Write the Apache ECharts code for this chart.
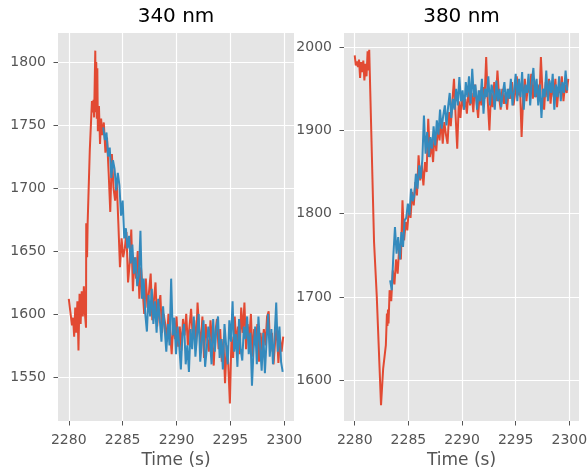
<!DOCTYPE html>
<html>
<head>
<meta charset="utf-8">
<script src="https://cdn.jsdelivr.net/npm/echarts@6/dist/echarts.min.js"></script>
<style>
html,body{margin:0;padding:0;background:#fff;}
#c{width:587px;height:472px;}
</style>
</head>
<body>
<div id="c"></div>
<script>
// ---------- DATA ----------
var titles = ['340 nm', '380 nm'];
var xTicks = [2280, 2285, 2290, 2295, 2300];
var yTicks340 = [1550, 1600, 1650, 1700, 1750, 1800];
var yTicks380 = [1600, 1700, 1800, 1900, 2000];
var sampleStep = 0.15;

// 340 nm, red: irregular onset (time, value) then regular tail from 2283.1
var red340OnsetT = [2280.0,2280.3,2280.4,2280.5,2280.6,2280.7,2280.8,2280.9,2281.0,2281.1,2281.2,2281.3,2281.4,2281.5,2281.6,
  2281.62,2281.7,2281.75,2281.95,2282.15,2282.2,2282.3,2282.35,2282.42,2282.46,2282.5,2282.55,2282.6,2282.65,2282.7,2282.8,2282.9,2283.0];
var red340OnsetV = [1612,1591,1597,1582,1605,1585,1610,1571,1616,1592,1618,1598,1622,1600,1589,
  1672,1645,1672,1730,1769,1760,1770,1756,1790,1809,1760,1800,1755,1795,1745,1765,1735,1755];
var red340TailStart = 2283.1;
var red340Tail = [
  1742,1752,1728,1740,1712,1681,1727,1700,1690,1705,
  1672,1637,1660,1645,1652,1665,1625,1640,1667,1618,
  1645,1628,1650,1612,1637,1620,1600,1628,1605,1618,
  1632,1595,1611,1625,1590,1606,1615,1585,1600,1592,
  1578,1600,1586,1568,1595,1580,1598,1574,1590,1571,
  1596,1583,1600,1575,1590,1604,1582,1595,1572,1609,
  1588,1575,1598,1565,1592,1580,1570,1595,1578,1559,
  1585,1596,1572,1588,1562,1580,1545,1575,1560,1529,
  1582,1565,1598,1575,1590,1568,1605,1585,1609,1572,
  1592,1580,1600,1566,1588,1575,1592,1562,1585,1570,
  1588,1575,1598,1602,1570,1585,1560,1578,1590,1561,
  1580,1570,1582];
// 340 nm, blue: regular from 2283.2
var blue340Start = 2283.2;
var blue340 = [
  1748,1738,1744,1725,1732,1708,1722,1715,1698,1712,
  1702,1678,1690,1660,1668,1652,1662,1640,1655,1632,
  1645,1622,1630,1666,1612,1628,1600,1586,1615,1598,
  1620,1592,1610,1585,1612,1595,1578,1606,1588,1570,
  1592,1575,1628,1583,1597,1568,1590,1575,1556,1584,
  1592,1560,1575,1554,1588,1572,1598,1566,1583,1600,
  1562,1578,1595,1558,1572,1590,1580,1560,1596,1570,
  1588,1598,1565,1580,1556,1592,1575,1560,1595,1578,
  1610,1570,1584,1558,1596,1572,1563,1590,1580,1598,
  1568,1585,1543,1572,1590,1560,1598,1575,1555,1585,
  1553,1578,1600,1566,1588,1560,1582,1609,1570,1590,
  1562,1554];

// 380 nm, red
var red380OnsetT = [2280.0,2280.1,2280.2,2280.3,2280.4,2280.5,2280.6,2280.7,2280.8,2280.9,2281.0,2281.1,2281.2,2281.3,2281.35,2281.4,
  2281.8,2281.85,2282.05,2282.1,2282.45,2282.65,2282.9,2283.0,2283.05,2283.1,2283.15,2283.25,2283.3];
var red380OnsetV = [1990,1978,1983,1976,1985,1963,1982,1970,1984,1960,1980,1965,1995,1972,1997,1996,
  1766,1764,1702,1700,1570,1614,1642,1680,1665,1685,1668,1708,1705];
var red380TailStart = 2283.4;
var red380Tail = [
  1695,1732,1715,1745,1728,1760,1745,1816,1768,1790,
  1780,1808,1795,1826,1810,1838,1822,1870,1840,1858,
  1834,1862,1850,1914,1868,1885,1862,1898,1875,1905,
  1888,1914,1884,1910,1895,1884,1922,1905,1935,1962,
  1918,1878,1935,1915,1945,1925,1938,1920,1948,1930,
  1945,1922,1955,1935,1915,1948,1930,1952,1938,1988,
  1935,1900,1945,1928,1958,1935,1972,1940,1925,1950,
  1932,1945,1925,1950,1938,1958,1930,1945,1965,1942,
  1955,1892,1940,1962,1935,1955,1945,1968,1938,1960,
  1940,1955,1935,1988,1945,1925,1958,1940,1962,1932,
  1955,1940,1962,1928,1950,1945,1965,1935,1955,1945,
  1962];
// 380 nm, blue: regular from 2283.3
var blue380Start = 2283.3;
var blue380 = [
  1720,1708,1750,1784,1752,1772,1745,1778,1760,1792,
  1795,1812,1798,1830,1815,1822,1848,1830,1858,1842,
  1865,1918,1872,1898,1868,1892,1878,1905,1882,1912,
  1895,1925,1902,1918,1930,1906,1928,1945,1915,1938,
  1925,1950,1930,1964,1935,1948,1925,1958,1940,1965,
  1932,1974,1940,1955,1925,1948,1935,1962,1920,1950,
  1940,1965,1930,1955,1945,1925,1960,1935,1950,1928,
  1945,1958,1932,1950,1938,1962,1930,1948,1968,1935,
  1962,1940,1970,1925,1955,1945,1968,1930,1958,1975,
  1940,1962,1930,1955,1915,1950,1940,1972,1935,1960,
  1945,1968,1925,1955,1940,1965,1935,1958,1945,1972,
  1948];

// ---------- BUILD ----------
function pairs(ts, vs) { return ts.map(function (t, i) { return [t, vs[i]]; }); }
function regular(start, vs) {
  return vs.map(function (v, i) { return [Math.round((start + i * sampleStep) * 100) / 100, v]; });
}
var red340Data = pairs(red340OnsetT, red340OnsetV).concat(regular(red340TailStart, red340Tail));
var blue340Data = regular(blue340Start, blue340);
var red380Data = pairs(red380OnsetT, red380OnsetV).concat(regular(red380TailStart, red380Tail));
var blue380Data = regular(blue380Start, blue380);

var RED = '#E24A33', BLUE = '#348ABD', FONT = 'DejaVu Sans';
function plain(v) { return String(v); }

function xAxis(idx) {
  return {
    type: 'value', gridIndex: idx, min: 2279.0, max: 2300.9,
    name: 'Time (s)', nameLocation: 'middle', nameGap: 31,
    nameTextStyle: { color: '#555555', fontSize: 17, fontFamily: FONT },
    axisLine: { show: false },
    axisTick: { show: true, customValues: xTicks, length: 4.5, lineStyle: { color: '#555555', width: 1 } },
    axisLabel: { customValues: xTicks, formatter: plain, color: '#555555', fontSize: 14, fontFamily: FONT, margin: 12 },
    splitLine: { show: true, lineStyle: { color: '#ffffff', width: 1.2 } }
  };
}
function yAxis(idx, min, max, ticks) {
  return {
    type: 'value', gridIndex: idx, min: min, max: max,
    axisLine: { show: false },
    axisTick: { show: true, customValues: ticks, length: 4.5, lineStyle: { color: '#555555', width: 1 } },
    axisLabel: { customValues: ticks, formatter: plain, color: '#555555', fontSize: 14, fontFamily: FONT, margin: 12 },
    splitLine: { show: true, lineStyle: { color: '#ffffff', width: 1.2 } }
  };
}
function line(idx, data, color) {
  return {
    type: 'line', xAxisIndex: idx, yAxisIndex: idx, data: data,
    showSymbol: false, symbol: 'none', animation: false,
    lineStyle: { color: color, width: 2 }, itemStyle: { color: color }, z: color === BLUE ? 3 : 2
  };
}

var chart = echarts.init(document.getElementById('c'), null, { renderer: 'canvas' });
chart.setOption({
  animation: false,
  backgroundColor: '#ffffff',
  grid: [
    { left: 58, top: 33, width: 236, height: 388, show: true, backgroundColor: '#E5E5E5', borderWidth: 0, containLabel: false, outerBoundsMode: 'none' },
    { left: 344, top: 33, width: 235, height: 388, show: true, backgroundColor: '#E5E5E5', borderWidth: 0, containLabel: false, outerBoundsMode: 'none' }
  ],
  xAxis: [xAxis(0), xAxis(1)],
  yAxis: [yAxis(0, 1515, 1823, yTicks340), yAxis(1, 1551, 2017, yTicks380)],
  series: [
    line(0, red340Data, RED), line(0, blue340Data, BLUE),
    line(1, red380Data, RED), line(1, blue380Data, BLUE)
  ],
  graphic: [
    { type: 'text', x: 176, y: 17, style: { text: titles[0], align: 'center', verticalAlign: 'middle', font: '20px "DejaVu Sans"', fill: '#000000' } },
    { type: 'text', x: 461.5, y: 17, style: { text: titles[1], align: 'center', verticalAlign: 'middle', font: '20px "DejaVu Sans"', fill: '#000000' } }
  ]
});
</script>
</body>
</html>
